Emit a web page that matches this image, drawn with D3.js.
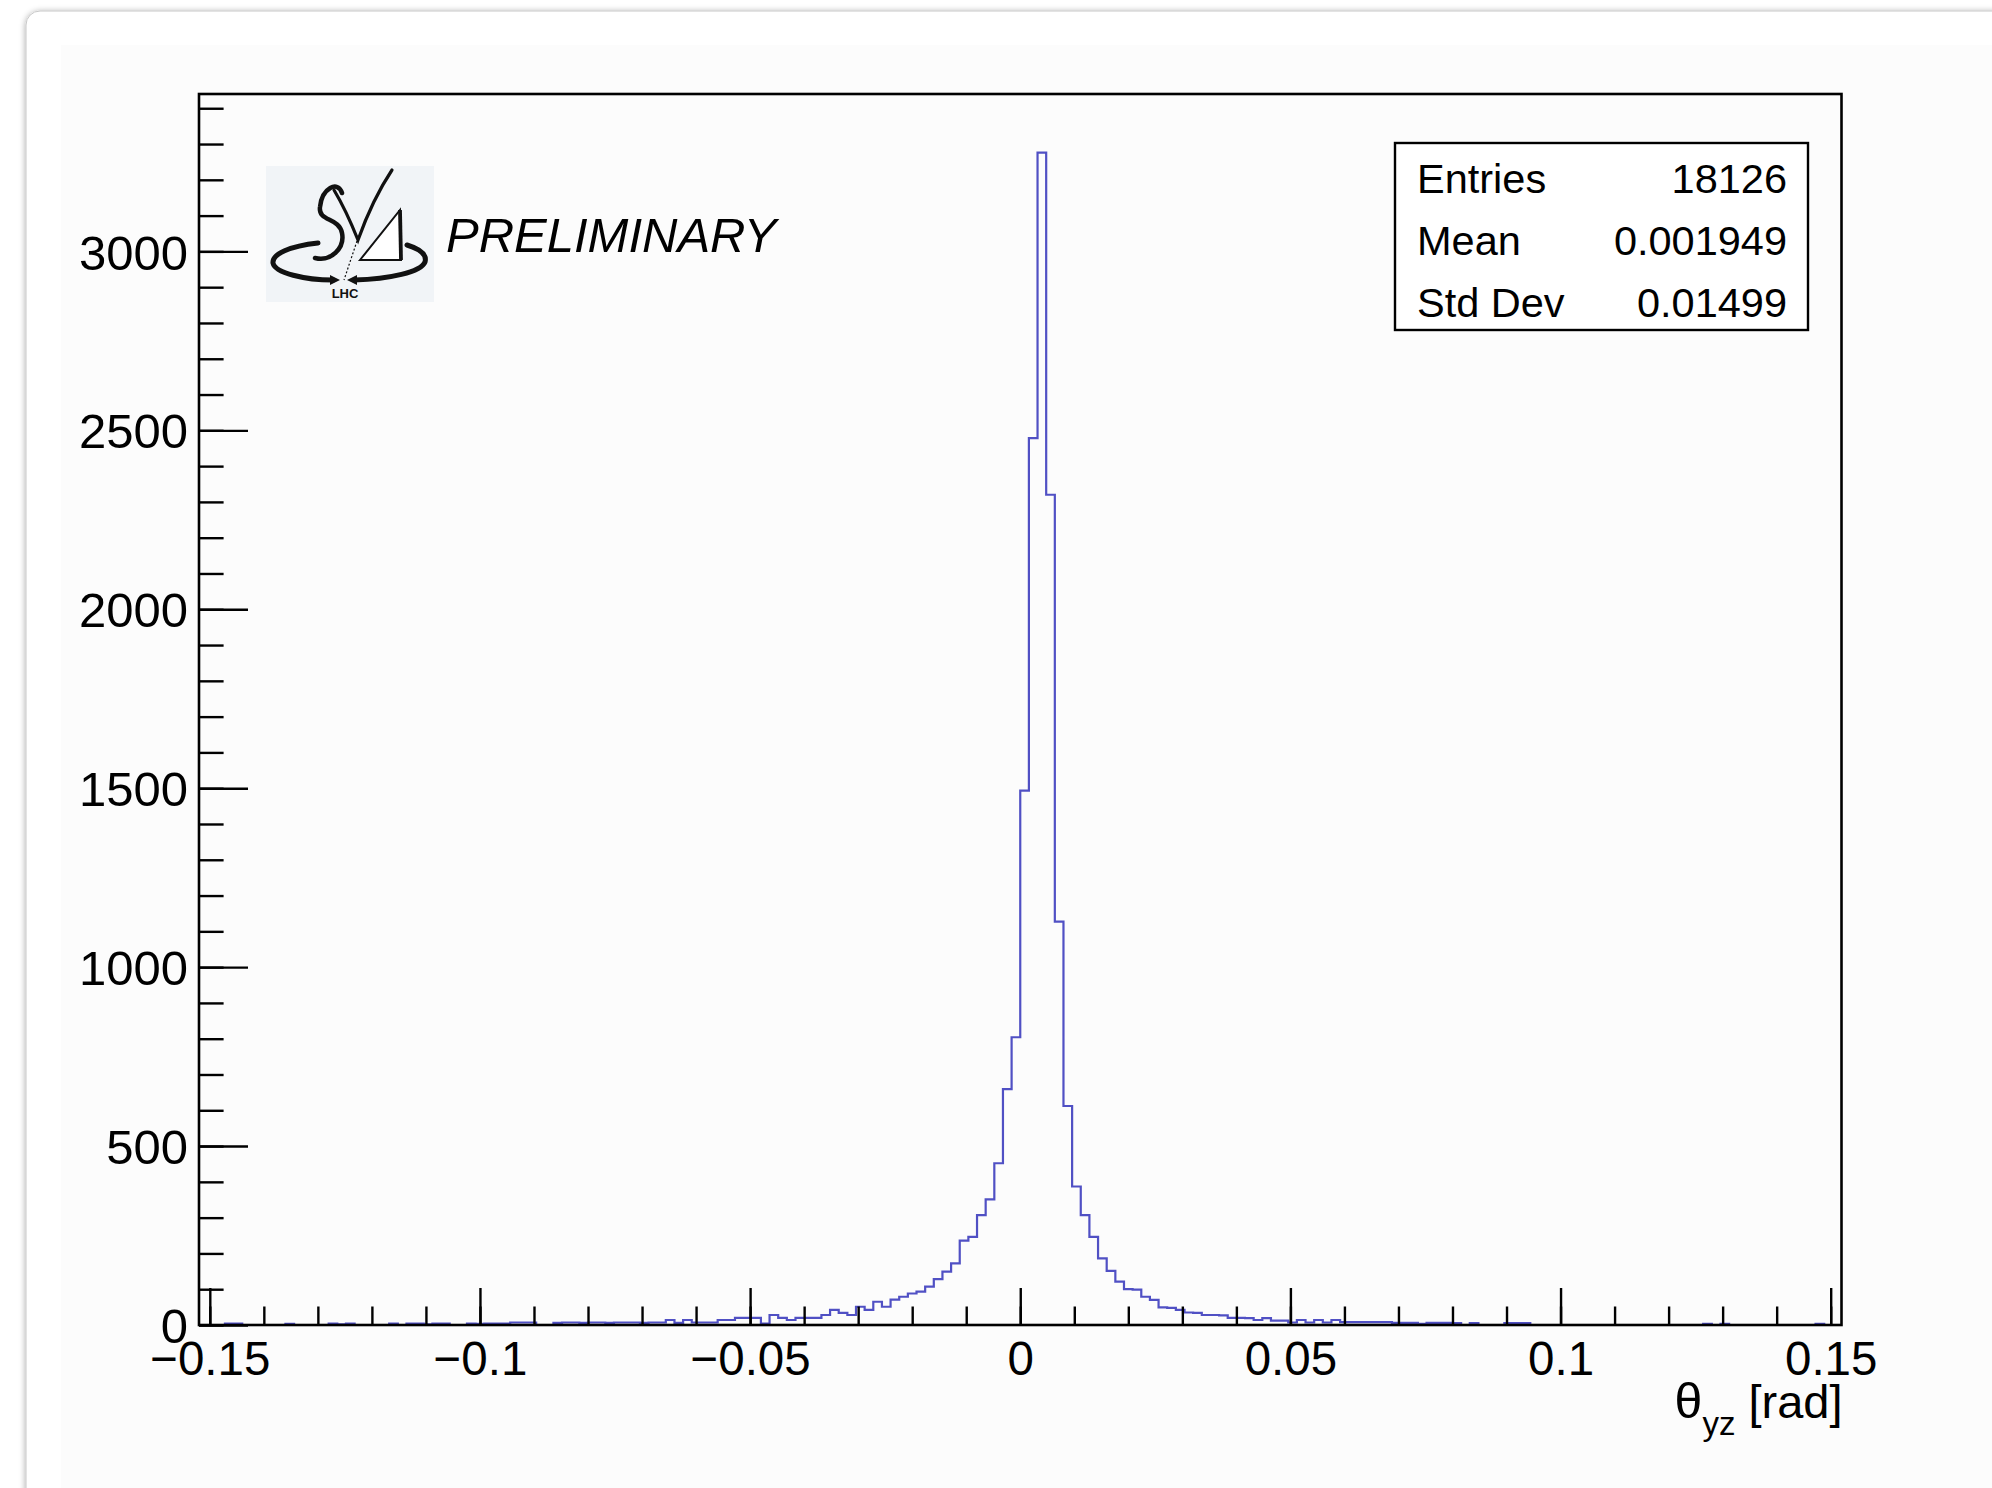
<!DOCTYPE html>
<html><head><meta charset="utf-8">
<script src="https://cdn.jsdelivr.net/npm/d3@7"></script>
<style>html,body{margin:0;padding:0;background:#fff;} svg{display:block;}</style>
</head><body>
<svg id="c" width="1992" height="1488"></svg>
<script>
// ---------------- data ----------------
const nBins = 190;
const xLow = -0.152, xHigh = 0.152;
const counts = [
  0,0,0,4,4,0,0,0,0,0,
  3,0,0,0,0,4,2,4,0,0,
  0,0,4,0,4,4,2,4,4,0,
  0,4,3,4,4,4,7,7,7,0,
  0,6,7,7,6,7,7,6,7,7,
  7,6,7,7,14,6,14,7,7,7,
  14,14,20,20,20,4,28,20,14,20,
  20,20,28,42,34,28,51,42,65,51,
  71,79,88,93,107,128,149,172,236,246,
  307,351,452,659,804,1493,2478,3276,2320,1127,
  612,387,307,246,186,151,121,100,99,79,
  70,49,48,42,35,34,28,28,27,20,
  20,19,14,19,12,12,7,14,7,14,
  7,14,8,8,8,8,8,8,6,6,
  6,3,6,6,6,5,0,5,0,0,
  0,5,5,5,0,0,0,0,0,0,
  0,0,0,0,0,0,0,0,0,0,
  0,0,0,0,3,0,3,0,0,0,
  0,0,0,0,0,0,0,3,0,0
];
const xTickValues = [-0.15,-0.1,-0.05,0,0.05,0.1,0.15];
const xTickLabels = ["\u22120.15","\u22120.1","\u22120.05","0","0.05","0.1","0.15"];
const yTickValues = [0,500,1000,1500,2000,2500,3000];
const yTickLabels = ["0","500","1000","1500","2000","2500","3000"];
const statsNames = ["Entries","Mean","Std Dev"];
const statsValues = ["18126","0.001949","0.01499"];
const xTitleMain = "\u03B8", xTitleSub = "yz", xTitleUnit = "\u00A0[rad]";
const watermark = "PRELIMINARY";

// ---------------- layout ----------------
const W = 1992, H = 1488;
const F = {l:199, r:1841.5, t:94, b:1325};
const FONT = "'Liberation Sans', Arial, Helvetica, sans-serif";
const svg = d3.select("#c");
const defs = svg.append("defs");
const flt = defs.append("filter").attr("id","sh").attr("x","-5%").attr("y","-5%").attr("width","110%").attr("height","110%");
flt.append("feDropShadow").attr("dx",0).attr("dy",1).attr("stdDeviation",3)
   .attr("flood-color","#000").attr("flood-opacity",0.35);

svg.append("rect").attr("width",W).attr("height",H).attr("fill","#fff");
svg.append("rect").attr("x",26).attr("y",11).attr("width",2300).attr("height",1800)
   .attr("rx",14).attr("fill","#fff").attr("stroke","#c8c8c8").attr("stroke-width",1)
   .attr("filter","url(#sh)");
svg.append("rect").attr("x",61).attr("y",45).attr("width",1960).attr("height",1500)
   .attr("fill","#fcfcfc");

// ---------------- scales ----------------
const binW = (xHigh - xLow) / nBins;
const yMax = 1.05 * d3.max(counts);
const x = d3.scaleLinear().domain([xLow, xHigh]).range([F.l, F.r]);
const y = d3.scaleLinear().domain([0, yMax]).range([F.b, F.t]);

// ---------------- histogram ----------------
const pts = [[xLow, 0]];
counts.forEach((c,i) => pts.push([xLow + i*binW, c]));
pts.push([xHigh, counts[nBins-1]]);
pts.push([xHigh, 0]);
const line = d3.line().x(d => x(d[0])).y(d => y(d[1])).curve(d3.curveStepAfter);
svg.append("path").attr("d", line(pts)).attr("fill","none")
   .attr("stroke","#5050c4").attr("stroke-width",2.2).attr("stroke-linejoin","miter");

// ---------------- axes ----------------
function styleAxis(g, fs){
  g.select(".domain").remove();
  g.selectAll(".tick line").attr("stroke","#000").attr("stroke-width",2.4);
  g.selectAll(".tick text").attr("fill","#000").attr("font-family",FONT).attr("font-size",fs);
}
const gxMinor = svg.append("g").attr("transform",`translate(0,${F.b})`)
  .call(d3.axisBottom(x).tickValues(x.ticks(30)).tickSize(-18.5).tickFormat(""));
styleAxis(gxMinor, 47);
const gx = svg.append("g").attr("transform",`translate(0,${F.b})`)
  .call(d3.axisBottom(x).tickValues(xTickValues).tickSize(-37).tickFormat((d,i)=>xTickLabels[i]));
styleAxis(gx, 47.5);
gx.selectAll(".tick text").attr("y",50).attr("dy",0);

const gyMinor = svg.append("g").attr("transform",`translate(${F.l},0)`)
  .call(d3.axisLeft(y).tickValues(y.ticks(35)).tickSize(-24.6).tickFormat(""));
styleAxis(gyMinor, 48);
const gy = svg.append("g").attr("transform",`translate(${F.l},0)`)
  .call(d3.axisLeft(y).tickValues(yTickValues).tickSize(-49).tickPadding(11).tickFormat((d,i)=>yTickLabels[i]));
styleAxis(gy, 49);
gy.selectAll(".tick text").attr("dy","0.36em");

// frame
svg.append("rect").attr("x",F.l).attr("y",F.t).attr("width",F.r-F.l).attr("height",F.b-F.t)
   .attr("fill","none").attr("stroke","#000").attr("stroke-width",2.6);

// x title
const xt = svg.append("text").attr("x",F.r+1).attr("y",1418).attr("text-anchor","end")
  .attr("font-family",FONT).attr("font-size",47).attr("fill","#000");
xt.append("tspan").attr("font-size",50).text(xTitleMain);
xt.append("tspan").attr("dy",17).attr("font-size",33).text(xTitleSub);
xt.append("tspan").attr("dy",-17).text(xTitleUnit);

// ---------------- stats box ----------------
svg.append("rect").attr("x",1395).attr("y",143).attr("width",413).attr("height",187)
   .attr("fill","#fff").attr("stroke","#000").attr("stroke-width",2.4);
statsNames.forEach((n,i) => {
  svg.append("text").attr("x",1417).attr("y",193 + i*62).attr("font-family",FONT)
     .attr("font-size",41.5).attr("fill","#000").text(n);
  svg.append("text").attr("x",1787).attr("y",193 + i*62).attr("text-anchor","end")
     .attr("font-family",FONT).attr("font-size",41.5).attr("fill","#000").text(statsValues[i]);
});

// ---------------- watermark ----------------
svg.append("text").attr("x",446).attr("y",252).attr("font-family",FONT).attr("font-style","italic")
   .attr("font-size",49).attr("fill","#000").text(watermark);

// logo
const lg = svg.append("g");
lg.append("rect").attr("x",266).attr("y",166).attr("width",168).attr("height",136).attr("fill","#f1f4f7");
// ring arcs
lg.append("path").attr("d","M318,243 C290,246 272,254 273,263 C275,273 305,280 333,280")
  .attr("fill","none").attr("stroke","#111").attr("stroke-width",5).attr("stroke-linecap","round");
lg.append("path").attr("d","M407,245 C420,249 427,255 425,262 C421,272 390,279 354,280")
  .attr("fill","none").attr("stroke","#111").attr("stroke-width",5).attr("stroke-linecap","round");
lg.append("path").attr("d","M340,280 L330,275 L330,285 Z").attr("fill","#111");
lg.append("path").attr("d","M347,280 L357,275 L357,285 Z").attr("fill","#111");
// S
lg.append("path").attr("d","M342,193 C338,180 322,188 320,207 C318,222 339,217 342,233 C345,248 331,262 315,258")
  .attr("fill","none").attr("stroke","#111").attr("stroke-width",4.5).attr("stroke-linecap","round");
// V stroke
lg.append("path").attr("d","M334,190 C343,205 352,225 358,240 C368,212 380,188 392,170")
  .attr("fill","none").attr("stroke","#111").attr("stroke-width",3.2).attr("stroke-linecap","round");
// triangle
lg.append("path").attr("d","M360,260 L400,210 L401,260 Z").attr("fill","#fff").attr("stroke","#111").attr("stroke-width",2);
lg.append("line").attr("x1",400).attr("y1",210).attr("x2",401).attr("y2",260).attr("stroke","#111").attr("stroke-width",3.8);
// dashed
lg.append("line").attr("x1",357).attr("y1",241).attr("x2",344).attr("y2",280)
  .attr("stroke","#111").attr("stroke-width",1.2).attr("stroke-dasharray","2,2");
lg.append("text").attr("x",345).attr("y",298).attr("text-anchor","middle").attr("font-family",FONT)
  .attr("font-weight","bold").attr("font-size",13).attr("fill","#111").text("LHC");
</script>
</body></html>
